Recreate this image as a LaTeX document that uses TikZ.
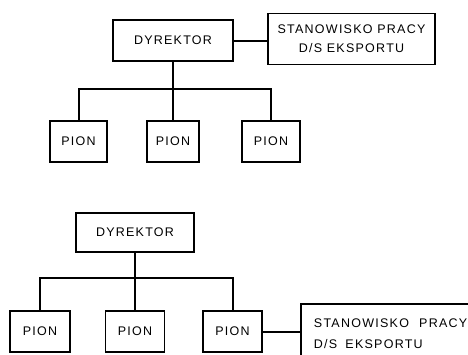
\documentclass[tikz,border=0pt]{standalone}
\usepackage{fontspec}
\setmainfont{Liberation Sans}[LetterSpace=10]
\begin{document}
\begin{tikzpicture}[x=1pt,y=-1pt,
  box/.style={draw,line width=1.9pt,inner sep=0pt,font=\fontsize{12.5}{19}\selectfont},
  link/.style={line width=2pt}]
\useasboundingbox (0,0) rectangle (468,354);
\clip (0,0) rectangle (468,354);
% top diagram
\node[box,minimum width=120pt,minimum height=41pt] (dir1) at (173,40.5) {DYREKTOR};
\node[box,minimum width=167pt,minimum height=51pt,align=center] (st1) at (351.5,39) {STANOWISKO PRACY\\D/S EKSPORTU};
\node[box,minimum width=57pt,minimum height=41pt] (p1a) at (78.5,141.5) {PION};
\node[box,minimum width=52pt,minimum height=41pt] (p1b) at (173,141.5) {PION};
\node[box,minimum width=58pt,minimum height=41pt] (p1c) at (271,141.5) {PION};
\coordinate (bus1) at (173,89);
\draw[link] (dir1.east) -- (dir1.east -| st1.west);
\draw[link] (dir1.south) -- (bus1);
\draw[link] (p1a.north) |- (bus1) -| (p1c.north);
\draw[link] (bus1) -- (p1b.north);
% bottom diagram
\node[box,minimum width=118pt,minimum height=39pt] (dir2) at (135,232.5) {DYREKTOR};
\node[box,minimum width=60pt,minimum height=41pt] (p2a) at (40,331.5) {PION};
\node[box,minimum width=59pt,minimum height=41pt] (p2b) at (135,331.5) {PION};
\node[box,minimum width=59pt,minimum height=41pt] (p2c) at (232.5,331.5) {PION};
\node[box,anchor=north west,inner xsep=13pt,text width=175pt,minimum height=59pt,align=left,font=\fontsize{12.5}{21}\selectfont] (st2) at (300,303) {STANOWISKO\hspace{6pt} PRACY\\[0pt]D/S\hspace{4pt} EKSPORTU};
\coordinate (bus2) at (135,278);
\draw[link] (dir2.south) -- (bus2);
\draw[link] (p2a.north) |- (bus2) -| (p2c.north);
\draw[link] (bus2) -- (p2b.north);
\draw[link] (p2c.east) -- (p2c.east -| st2.west);
\end{tikzpicture}
\end{document}
